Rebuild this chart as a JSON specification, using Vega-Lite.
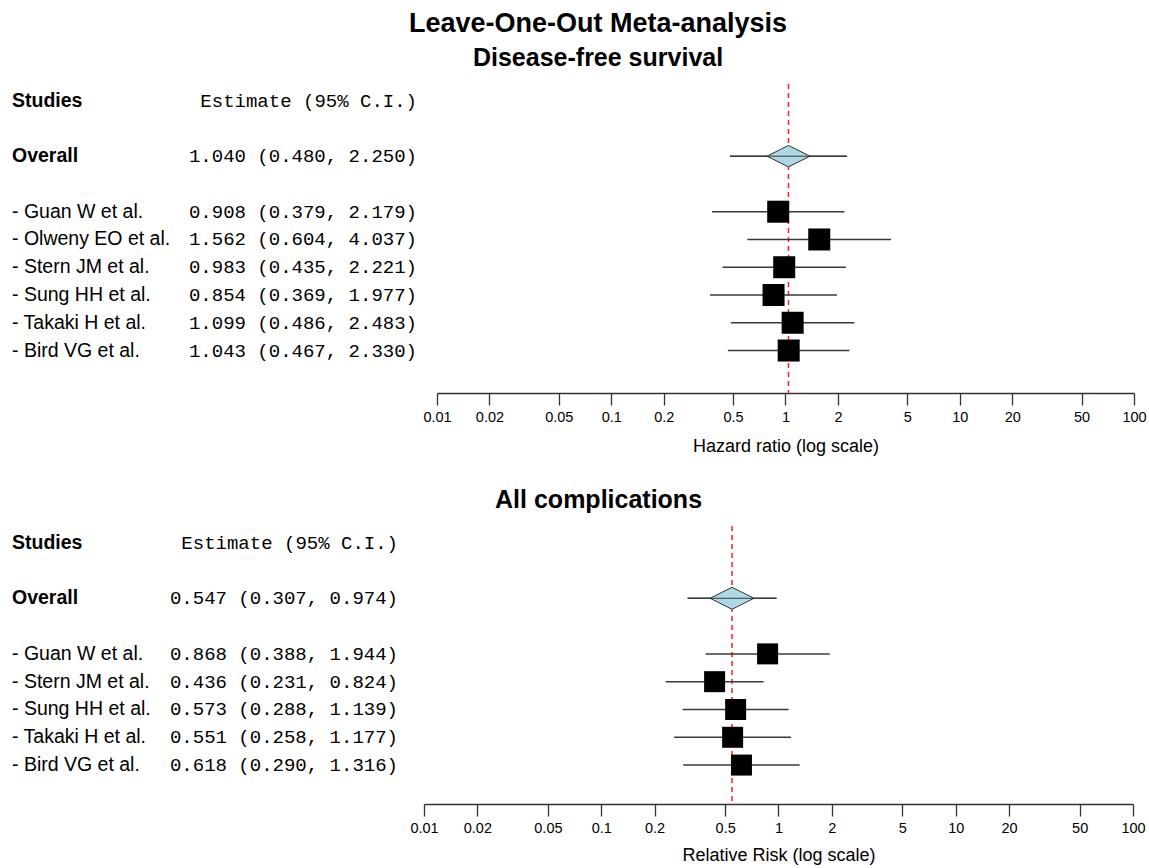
{
  "$schema": "https://vega.github.io/schema/vega-lite/v6.json",
  "padding": {"left": 12, "top": 10, "right": 0, "bottom": 0},
  "background": "white",
  "config": {
    "view": {"stroke": null},
    "font": "Liberation Sans",
    "concat": {"spacing": 32}
  },
  "title": {
    "text": "Leave-One-Out Meta-analysis",
    "font": "Liberation Sans",
    "fontSize": 27,
    "fontWeight": "bold",
    "color": "black",
    "anchor": "middle",
    "dx": 19,
    "offset": 8
  },
  "datasets": {
    "dfs": [
      {"kind": "header", "label": "Studies", "ci_text": "Estimate (95% C.I.)", "row": 0},
      {"kind": "overall", "label": "Overall", "est": 1.040, "lo": 0.480, "hi": 2.250, "ci_text": "1.040 (0.480, 2.250)", "row": 2},
      {"kind": "study", "label": "- Guan W et al.", "est": 0.908, "lo": 0.379, "hi": 2.179, "ci_text": "0.908 (0.379, 2.179)", "row": 4},
      {"kind": "study", "label": "- Olweny EO et al.", "est": 1.562, "lo": 0.604, "hi": 4.037, "ci_text": "1.562 (0.604, 4.037)", "row": 5},
      {"kind": "study", "label": "- Stern JM et al.", "est": 0.983, "lo": 0.435, "hi": 2.221, "ci_text": "0.983 (0.435, 2.221)", "row": 6},
      {"kind": "study", "label": "- Sung HH et al.", "est": 0.854, "lo": 0.369, "hi": 1.977, "ci_text": "0.854 (0.369, 1.977)", "row": 7},
      {"kind": "study", "label": "- Takaki H et al.", "est": 1.099, "lo": 0.486, "hi": 2.483, "ci_text": "1.099 (0.486, 2.483)", "row": 8},
      {"kind": "study", "label": "- Bird VG et al.", "est": 1.043, "lo": 0.467, "hi": 2.330, "ci_text": "1.043 (0.467, 2.330)", "row": 9}
    ],
    "comp": [
      {"kind": "header", "label": "Studies", "ci_text": "Estimate (95% C.I.)", "row": 0},
      {"kind": "overall", "label": "Overall", "est": 0.547, "lo": 0.307, "hi": 0.974, "ci_text": "0.547 (0.307, 0.974)", "row": 2},
      {"kind": "study", "label": "- Guan W et al.", "est": 0.868, "lo": 0.388, "hi": 1.944, "ci_text": "0.868 (0.388, 1.944)", "row": 4},
      {"kind": "study", "label": "- Stern JM et al.", "est": 0.436, "lo": 0.231, "hi": 0.824, "ci_text": "0.436 (0.231, 0.824)", "row": 5},
      {"kind": "study", "label": "- Sung HH et al.", "est": 0.573, "lo": 0.288, "hi": 1.139, "ci_text": "0.573 (0.288, 1.139)", "row": 6},
      {"kind": "study", "label": "- Takaki H et al.", "est": 0.551, "lo": 0.258, "hi": 1.177, "ci_text": "0.551 (0.258, 1.177)", "row": 7},
      {"kind": "study", "label": "- Bird VG et al.", "est": 0.618, "lo": 0.290, "hi": 1.316, "ci_text": "0.618 (0.290, 1.316)", "row": 8}
    ]
  },
  "vconcat": [
    {
      "title": {"text": "Disease-free survival", "font": "Liberation Sans", "fontSize": 25, "fontWeight": "bold", "color": "black", "anchor": "middle", "dx": 19, "offset": 12},
      "spacing": 5,
      "hconcat": [
        {
          "width": 405,
          "height": 309,
          "data": {"name": "dfs"},
          "encoding": {
            "y": {"field": "row", "type": "quantitative", "scale": {"domain": [-0.6, 10.53], "reverse": true, "nice": false, "zero": false}, "axis": null}
          },
          "layer": [
            {
              "transform": [{"filter": "datum.kind != 'study'"}],
              "mark": {"type": "text", "align": "left", "baseline": "middle", "font": "Liberation Sans", "fontSize": 19.5, "fontWeight": "bold", "color": "black"},
              "encoding": {
                "x": {"datum": "label", "type": "nominal", "scale": {"type": "point", "domain": ["label", "ci"], "padding": 0}, "axis": null},
                "text": {"field": "label"}
              }
            },
            {
              "transform": [{"filter": "datum.kind == 'study'"}],
              "mark": {"type": "text", "align": "left", "baseline": "middle", "font": "Liberation Sans", "fontSize": 19.5, "color": "black"},
              "encoding": {
                "x": {"datum": "label", "type": "nominal"},
                "text": {"field": "label"}
              }
            },
            {
              "mark": {"type": "text", "align": "right", "baseline": "middle", "font": "Liberation Mono", "fontSize": 19, "color": "black"},
              "encoding": {
                "x": {"datum": "ci", "type": "nominal"},
                "text": {"field": "ci_text"}
              }
            }
          ]
        },
        {
          "width": 697,
          "height": 309,
          "data": {"name": "dfs"},
          "transform": [{"filter": "datum.kind != 'header'"}],
          "encoding": {
            "y": {"field": "row", "type": "quantitative", "scale": {"domain": [-0.6, 10.53], "reverse": true, "nice": false, "zero": false}, "axis": null}
          },
          "layer": [
            {
              "transform": [{"filter": "datum.kind == 'overall'"}],
              "mark": {"type": "rule", "color": "#ff2020", "strokeDash": [5, 4], "strokeWidth": 1.5},
              "encoding": {
                "x": {"field": "est", "type": "quantitative"},
                "y": null
              }
            },
            {
              "mark": {"type": "rule", "color": "#3a3a3a", "strokeWidth": 1.5},
              "encoding": {
                "x": {"field": "lo", "type": "quantitative",
                  "scale": {"type": "log", "domain": [0.01, 100], "nice": false},
                  "axis": {"values": [0.01, 0.02, 0.05, 0.1, 0.2, 0.5, 1, 2, 5, 10, 20, 50, 100], "format": "~g", "title": "Hazard ratio (log scale)", "grid": false, "domainColor": "#333333", "tickColor": "#333333", "tickSize": 12, "domainWidth": 1.3, "tickWidth": 1.3, "labelFont": "Liberation Sans", "labelFontSize": 14.5, "labelColor": "black", "labelPadding": 5, "labelFlush": false, "labelOverlap": false, "titleFont": "Liberation Sans", "titleFontSize": 18, "titleFontWeight": "normal", "titleColor": "black", "titlePadding": 14}},
                "x2": {"field": "hi"}
              }
            },
            {
              "transform": [{"filter": "datum.kind == 'study'"}],
              "mark": {"type": "point", "shape": "square", "filled": true, "color": "black", "opacity": 1, "size": 484},
              "encoding": {"x": {"field": "est", "type": "quantitative"}}
            },
            {
              "transform": [{"filter": "datum.kind == 'overall'"}],
              "mark": {"type": "point", "shape": "M-1,0L0,-0.5L1,0L0,0.5Z", "filled": true, "fill": "#add8e6", "stroke": "#333333", "strokeWidth": 1, "opacity": 1, "size": 1849},
              "encoding": {"x": {"field": "est", "type": "quantitative"}}
            },
            {
              "transform": [{"filter": "datum.kind == 'overall'"}],
              "mark": {"type": "rule", "color": "#3a3a3a", "strokeWidth": 1},
              "encoding": {
                "x": {"field": "lo", "type": "quantitative"},
                "x2": {"field": "hi"}
              }
            }
          ]
        }
      ]
    },
    {
      "title": {"text": "All complications", "font": "Liberation Sans", "fontSize": 25, "fontWeight": "bold", "color": "black", "anchor": "middle", "dx": 20, "offset": 12},
      "spacing": 11,
      "hconcat": [
        {
          "width": 386,
          "height": 278,
          "data": {"name": "comp"},
          "encoding": {
            "y": {"field": "row", "type": "quantitative", "scale": {"domain": [-0.6, 9.4], "reverse": true, "nice": false, "zero": false}, "axis": null}
          },
          "layer": [
            {
              "transform": [{"filter": "datum.kind != 'study'"}],
              "mark": {"type": "text", "align": "left", "baseline": "middle", "font": "Liberation Sans", "fontSize": 19.5, "fontWeight": "bold", "color": "black"},
              "encoding": {
                "x": {"datum": "label", "type": "nominal", "scale": {"type": "point", "domain": ["label", "ci"], "padding": 0}, "axis": null},
                "text": {"field": "label"}
              }
            },
            {
              "transform": [{"filter": "datum.kind == 'study'"}],
              "mark": {"type": "text", "align": "left", "baseline": "middle", "font": "Liberation Sans", "fontSize": 19.5, "color": "black"},
              "encoding": {
                "x": {"datum": "label", "type": "nominal"},
                "text": {"field": "label"}
              }
            },
            {
              "mark": {"type": "text", "align": "right", "baseline": "middle", "font": "Liberation Mono", "fontSize": 19, "color": "black"},
              "encoding": {
                "x": {"datum": "ci", "type": "nominal"},
                "text": {"field": "ci_text"}
              }
            }
          ]
        },
        {
          "width": 709,
          "height": 278,
          "data": {"name": "comp"},
          "transform": [{"filter": "datum.kind != 'header'"}],
          "encoding": {
            "y": {"field": "row", "type": "quantitative", "scale": {"domain": [-0.6, 9.4], "reverse": true, "nice": false, "zero": false}, "axis": null}
          },
          "layer": [
            {
              "transform": [{"filter": "datum.kind == 'overall'"}],
              "mark": {"type": "rule", "color": "#ff2020", "strokeDash": [5, 4], "strokeWidth": 1.5},
              "encoding": {
                "x": {"field": "est", "type": "quantitative"},
                "y": null
              }
            },
            {
              "mark": {"type": "rule", "color": "#3a3a3a", "strokeWidth": 1.5},
              "encoding": {
                "x": {"field": "lo", "type": "quantitative",
                  "scale": {"type": "log", "domain": [0.01, 100], "nice": false},
                  "axis": {"values": [0.01, 0.02, 0.05, 0.1, 0.2, 0.5, 1, 2, 5, 10, 20, 50, 100], "format": "~g", "title": "Relative Risk (log scale)", "grid": false, "domainColor": "#333333", "tickColor": "#333333", "tickSize": 12, "domainWidth": 1.3, "tickWidth": 1.3, "labelFont": "Liberation Sans", "labelFontSize": 14.5, "labelColor": "black", "labelPadding": 5, "labelFlush": false, "labelOverlap": false, "titleFont": "Liberation Sans", "titleFontSize": 18, "titleFontWeight": "normal", "titleColor": "black", "titlePadding": 12}},
                "x2": {"field": "hi"}
              }
            },
            {
              "transform": [{"filter": "datum.kind == 'study'"}],
              "mark": {"type": "point", "shape": "square", "filled": true, "color": "black", "opacity": 1, "size": 441},
              "encoding": {"x": {"field": "est", "type": "quantitative"}}
            },
            {
              "transform": [{"filter": "datum.kind == 'overall'"}],
              "mark": {"type": "point", "shape": "M-1,0L0,-0.5L1,0L0,0.5Z", "filled": true, "fill": "#add8e6", "stroke": "#333333", "strokeWidth": 1, "opacity": 1, "size": 1936},
              "encoding": {"x": {"field": "est", "type": "quantitative"}}
            },
            {
              "transform": [{"filter": "datum.kind == 'overall'"}],
              "mark": {"type": "rule", "color": "#3a3a3a", "strokeWidth": 1},
              "encoding": {
                "x": {"field": "lo", "type": "quantitative"},
                "x2": {"field": "hi"}
              }
            }
          ]
        }
      ]
    }
  ]
}
